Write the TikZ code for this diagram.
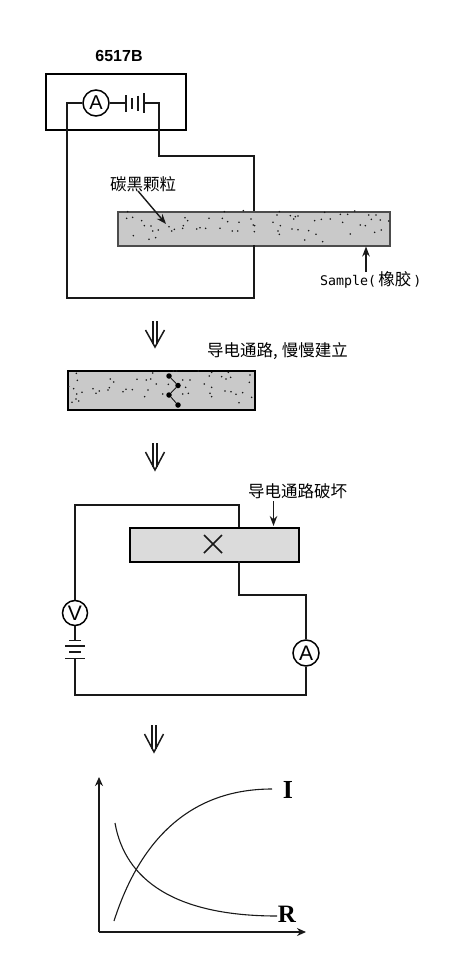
\documentclass[tikz,border=0pt]{standalone}
\usepackage{fontspec}
\usetikzlibrary{arrows.meta}
\setmainfont{Liberation Sans}
\newfontfamily\cjk{Noto Sans CJK SC}
\newfontfamily\monof{DejaVu Sans Mono}
\newfontfamily\serifb{Liberation Serif}[BoldFont={Liberation Serif Bold}]
\newcommand{\dblarrow}[4]{% x, top, wing y, tip y
  \draw[wire] (#1-2,#2) -- (#1-2,#4-3) (#1+2,#2) -- (#1+2,#4-3);
  \draw[wire,line width=1.5pt] (#1-9.5,#3) -- (#1,#4) -- (#1+9.5,#3);
}
\tikzset{
  wire/.style={draw=black!90,line width=1.3pt},
  meter/.style={draw=black,line width=1.5pt,circle,fill=white,inner sep=0pt,minimum size=26pt,font=\fontsize{20}{20}\selectfont},
  cjklabel/.style={inner sep=0pt,font=\cjk\fontsize{16.5}{17}\selectfont},
  barA/.style={draw=black!70,line width=1.6pt,fill=black!21,inner sep=0pt,anchor=north west},
  barB/.style={draw=black,line width=1.6pt,fill=black!14,inner sep=0pt,anchor=north west},
  ptr/.style={draw=black!90,line width=1.4pt,-{Stealth[length=10pt,width=7.5pt]}},
  axis/.style={draw=black!90,line width=1.4pt,-{Stealth[length=9pt,width=8pt]}},
  curve/.style={draw=black!90,line width=1.1pt},
  batt/.style={draw=black!90,line width=1.2pt},
  speck/.style={fill=black!90},
  grain/.style={circle,fill=black,inner sep=0pt,minimum size=5.5pt}
}
\begin{document}
\begin{tikzpicture}[x=1pt,y=-1pt]
\useasboundingbox (0,0) rectangle (463,974);

% ---------- first circuit ----------
\node[inner sep=0pt,font=\bfseries\fontsize{16}{16}\selectfont] (title) at (119,56) {6517B};
\node[draw=black,line width=1.5pt,anchor=north west,inner sep=0pt,minimum width=140pt,minimum height=56pt] (box) at (45.4,73.4) {};
\node[barA,minimum width=272pt,minimum height=34pt] (barone) at (117,211) {};
\node[meter] (amone) at (96,103) {A};
\coordinate (b1) at (126,103);
\coordinate (b2) at (144,103);
\coordinate (wl) at (67,103);
\coordinate (wb) at (67,298);
\coordinate (wr) at (254,298);
\coordinate (wrbar) at (254,245);
\coordinate (tr1) at (159,103);
\coordinate (tr2) at (159,156);
\coordinate (tr3) at (254,156);
\coordinate (trbar) at (254,211);
\draw[wire] (amone.west) -- (wl) -- (wb) -- (wr) -- (wrbar);
\draw[wire] (amone.east) -- (b1);
\draw[wire] (b2) -- (tr1) -- (tr2) -- (tr3) -- (trbar);
\draw[batt] (126,95) -- (126,112) (132,98) -- (132,109) (138,95.5) -- (138,111) (144,93) -- (144,113);

\begin{scope}[shift={(115,205)},x=0.3333pt,y=-0.3333pt]
\foreach \a/\b in {38/20,35/40,53/37,80/47,88/62,108/63,113/78,130/75,55/92,102/103,122/98,162/65,178/73,170/78,205/62,203/70,210/38,218/47,282/40,322/40,245/72,255/68,272/70,315/70,338/50,372/52,352/78,368/78,408/42,415/60,418/80,385/17,328/20}
  \fill[speck] (\a,\b) circle[radius=0.9pt];
\end{scope}
\begin{scope}[shift={(252,205)},x=0.3333pt,y=-0.3333pt]
\foreach \a/\b in {82/20,75/30,115/32,130/35,138/33,125/42,188/47,208/43,235/42,265/28,287/28,308/18,218/22,272/52,350/30,372/30,358/43,385/45,410/48,325/60,340/62,388/75,368/82,8/62,63/52,85/62,120/72,138/74,170/77,78/78,82/88,192/88,158/105,212/110,295/87}
  \fill[speck] (\a,\b) circle[radius=0.9pt];
\end{scope}

\node[cjklabel,anchor=west] (carbon) at (110,184) {碳黑颗粒};
\coordinate (carbontip) at (166,224);
\draw[ptr] (138,191) -- (carbontip);
\node[inner sep=0pt,anchor=west,font=\fontsize{13.3}{14}\selectfont] (sample) at (320,280) {{\monof Sample(}{\kern2pt}{\cjk\fontsize{16.5}{17}\selectfont 橡胶}{\kern2pt}{\monof )}};
\draw[ptr,line width=1.7pt] (366,272) -- (366,246.5);

% ---------- arrow 1, second bar ----------
\dblarrow{155}{321}{330}{347}
\node[cjklabel,anchor=west] (build) at (207,351.5) {导电通路,\kern4pt 慢慢建立};
\node[draw=black,line width=1.6pt,fill=black!21,inner sep=0pt,anchor=north west,minimum width=187pt,minimum height=39pt] (bartwo) at (67,370) {};
\begin{scope}[shift={(62,365)},x=0.3333pt,y=-0.3333pt]
\foreach \a/\b in {43/25,46/46,20/65,35/71,60/82,44/87,42/102,30/112,50/108,93/71,112/78,102/85,145/42,155/51,142/68,138/75,183/80,192/73,211/74,225/43,253/45,266/42,272/24,283/57,258/75,248/95}
  \fill[speck] (\a,\b) circle[radius=0.9pt];
\end{scope}
\begin{scope}[shift={(160,365)},x=0.3333pt,y=-0.3333pt]
\foreach \a/\b in {40/18,50/18,68/45,90/45,25/58,77/67,133/57,155/67,8/87,68/87,85/85,150/85,155/95,115/18,155/22,148/33,185/35,198/42,212/37,205/22,270/30,268/52,195/78,213/80,248/83,228/88,275/97,237/113}
  \fill[speck] (\a,\b) circle[radius=0.9pt];
\end{scope}
\node[grain] (g1) at (169,376) {};
\node[grain] (g2) at (178,385.5) {};
\node[grain] (g3) at (169,395) {};
\node[grain] (g4) at (178,405) {};
\draw[black!90,line width=0.9pt] (g1) -- (g2) -- (g3) -- (g4);

% ---------- arrow 2, second circuit ----------
\dblarrow{155}{443}{452}{470}
\node[cjklabel,anchor=west] (broken) at (248,491.5) {导电通路破坏};
\node[barB,minimum width=169pt,minimum height=34pt] (barthree) at (129,527) {};
\draw[wire,line width=1.5pt] (204,535) -- (222,553) (222,535) -- (204,553);
\draw[ptr] (273.5,501) -- (273.5,526);
\node[meter,minimum size=25pt,font=\fontsize{21}{21}\selectfont] (volt) at (75,613) {V};
\node[meter,font=\fontsize{21}{21}\selectfont] (amtwo) at (306,653) {A};
\coordinate (c1) at (75,505);
\coordinate (c2) at (239,505);
\coordinate (c3) at (239,527);
\coordinate (c4) at (239,561);
\coordinate (c5) at (239,595);
\coordinate (c6) at (306,595);
\coordinate (c7) at (306,695);
\coordinate (c8) at (75,695);
\coordinate (c9) at (75,659);
\coordinate (c10) at (75,640);
\draw[wire] (volt.north) -- (c1) -- (c2) -- (c3);
\draw[wire] (c4) -- (c5) -- (c6) -- (amtwo.north);
\draw[wire] (amtwo.south) -- (c7) -- (c8) -- (c9);
\draw[wire] (volt.south) -- (c10);
\draw[batt] (69,640.5) -- (81,640.5) (65,646) -- (85,646) (69,652) -- (81,652) (65,658.5) -- (85,658.5);

% ---------- arrow 3, plot ----------
\dblarrow{154}{725}{734}{752}
\coordinate (origin) at (99,932);
\coordinate (ytop) at (99,777);
\coordinate (xend) at (306,932);
\draw[axis] (origin) -- (ytop);
\draw[axis] (origin) -- (xend);
\node[inner sep=0pt,font=\serifb\bfseries\fontsize{26}{26}\selectfont] (ilabel) at (288,790) {I};
\node[inner sep=0pt,font=\serifb\bfseries\fontsize{25}{25}\selectfont] (rlabel) at (287,914) {R};
\draw[curve] (114,921) .. controls (140,840) and (190,789) .. (272,789);
\draw[curve] (115,823) .. controls (125,880) and (175,916) .. (277,916);
\end{tikzpicture}
\end{document}
